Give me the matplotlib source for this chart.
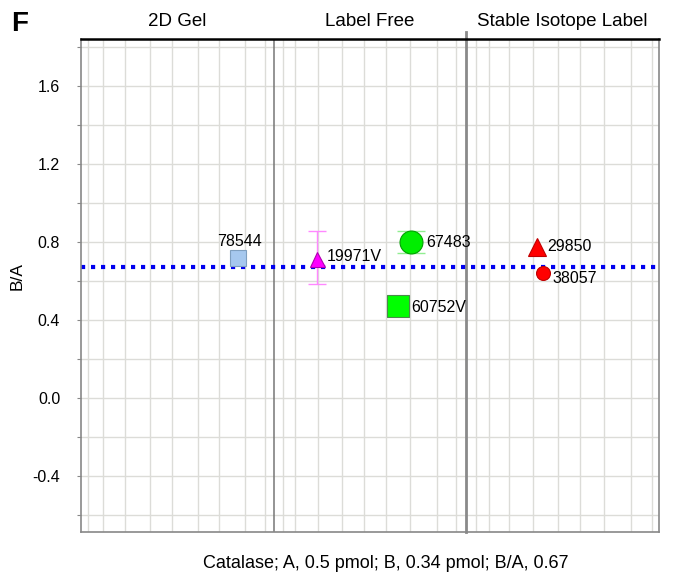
import matplotlib
matplotlib.use("Agg")
import matplotlib.pyplot as plt
import matplotlib.transforms as mtransforms

plt.rcParams['font.family'] = ['Liberation Sans', 'DejaVu Sans']

# panels and data
panels = ["2D Gel", "Label Free", "Stable Isotope Label"]
labels = ["78544", "19971V", "67483", "60752V", "29850", "38057"]
xpos = [0.813, 1.223, 1.711, 1.643, 2.365, 2.399]
ratio = [0.719, 0.711, 0.798, 0.471, 0.775, 0.639]
err_lo = [None, 0.582, 0.741, None, None, None]
err_hi = [None, 0.857, 0.857, None, None, None]
expected = 0.67

markers = ["s", "^", "o", "s", "^", "o"]
sizes = [12.2, 10.8, 16.5, 16.5, 13, 10]
colors = ["#a6c8ee", "#ff00ff", "#00ee00", "#00ff00", "#ff0000", "#ff0000"]
edges = ["#7f9fbf", "#b000b0", "#00a000", "#4a8a4a", "#c00000", "#c00000"]
ecolors = [None, "#ff88ff", "#90ee90", None, None, None]
capsz = [0, 6.5, 10.4, 0, 0, 0]
offsets = [(1, 12), (7.5, 2), (11.5, -0.5), (10, -1), (8, 0.5), (7, -4)]
has = ["center", "left", "left", "left", "left", "left"]

fig = plt.figure(figsize=(6.74, 5.79), dpi=100)
ax = fig.add_axes([0.1202, 0.0817, 0.8575, 0.8504])

ax.set_xlim(0, 3)
ax.set_ylim(-0.685, 1.838)

# grid
yt = [-0.6 + 0.2 * i for i in range(13)]
for y in yt:
    ax.axhline(y, color="#dcdcd8", lw=1, zorder=0)
grid_frac = [
    [0.036, 0.116, 0.226, 0.36, 0.472, 0.606, 0.714, 0.85, 0.953],
    [0.051, 0.113, 0.231, 0.354, 0.467, 0.585, 0.708, 0.846, 0.944],
    [0.052, 0.12, 0.224, 0.344, 0.474, 0.589, 0.714, 0.854, 0.964],
]
for p, fr in enumerate(grid_frac):
    for f in fr:
        ax.axvline(p + f, color="#dcdcd8", lw=1, zorder=0)

ax.set_yticks(yt)
ax.set_yticklabels(["" if round(v, 1) not in (-0.4, 0.0, 0.4, 0.8, 1.2, 1.6) else "%.1f" % (abs(v) if abs(v) < 1e-9 else v) for v in yt])
ax.tick_params(axis="y", length=3, color="#888888", labelsize=11.5, pad=12)
ax.set_xticks([])

for s in ["left", "bottom", "right"]:
    ax.spines[s].set_color("#888888")
    ax.spines[s].set_linewidth(1.2)
ax.spines["top"].set_color("black")
ax.spines["top"].set_linewidth(1.8)

# panel dividers
ax.axvline(1, color="#777777", lw=1.1, zorder=1)
trans = mtransforms.blended_transform_factory(ax.transData, ax.transAxes)
ax.plot([2, 2], [0, 1.015], color="#8a8a8a", lw=2, transform=trans, clip_on=False, zorder=1)

for i, name in enumerate(panels):
    ax.text(i + 0.5, 1.036, name, transform=trans, ha="center", va="center", fontsize=13.5)

# expected ratio line
ax.axhline(expected, color="#0000ee", lw=3, linestyle=(0, (1.0, 1.4)), zorder=2)

for i in range(len(labels)):
    if err_lo[i] is not None:
        ax.errorbar(xpos[i], ratio[i], yerr=[[ratio[i] - err_lo[i]], [err_hi[i] - ratio[i]]],
                    fmt="none", ecolor=ecolors[i], elinewidth=1, capsize=capsz[i], capthick=1, zorder=3)
    ax.plot(xpos[i], ratio[i], marker=markers[i], ms=sizes[i], color=colors[i],
            mec=edges[i], mew=0.8, linestyle="none", zorder=4)
    ax.annotate(labels[i], (xpos[i], ratio[i]), xytext=offsets[i],
                textcoords="offset points", ha=has[i], va="center", fontsize=11.5)

ax.set_ylabel("B/A", fontsize=12.5)
ax.yaxis.set_label_coords(-0.097, 0.52)
fig.text(0.572, 0.027, "Catalase; A, 0.5 pmol; B, 0.34 pmol; B/A, 0.67", ha="center", va="center", fontsize=13)
fig.text(0.017, 0.958, "F", fontsize=20, fontweight="bold", ha="left", va="center")

fig.savefig("out.png", dpi=100)
